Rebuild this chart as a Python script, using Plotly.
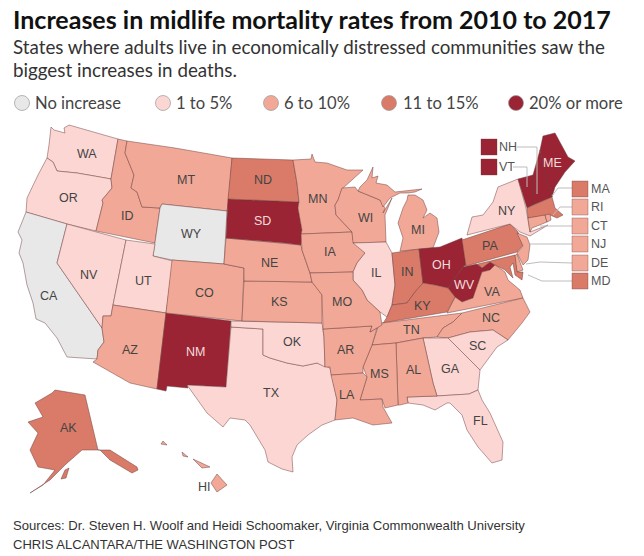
import plotly.graph_objects as go

# The plotly.js map files need the network, so the states are outlines traced
# off the picture, in picture pixels.
bin_names = ["No increase", "1 to 5%", "6 to 10%", "11 to 15%", "20% or more"]
bin_colors = ["#e8e8e8", "#fcd6d3", "#f2a896", "#d97b68", "#9a2434"]
bin_states = [
    ["CA", "WY"],
    ["WA", "OR", "NV", "UT", "TX", "OK", "IL", "GA", "SC", "FL", "NY"],
    ["ID", "MT", "CO", "AZ", "NE", "KS", "MN", "IA", "WI", "MI", "MO", "AR", "LA", "MS", "AL",
     "TN", "NC", "VA", "RI", "CT", "NJ", "DE", "HI"],
    ["ND", "IN", "KY", "PA", "MD", "MA", "AK"],
    ["SD", "NM", "OH", "WV", "ME", "NH", "VT"],
]

outlines = {
    "WA": [[(51,127),(54,130),(65,133),(64,128),(69,125),(118,139),(111,179),(100,177),(77,173),(67,172),(57,171),(53,162),(47,158),(49,145)]],
    "OR": [[(47,158),(53,162),(57,171),(67,172),(77,173),(100,177),(111,179),(112,188),(102,200),(103,203),(96,231),(67,224),(26,212),(27,198),(38,175)]],
    "CA": [[(26,212),(67,224),(57,263),(102,328),(104,342),(98,350),(97,359),(67,357),(57,338),(45,323),(36,319),(33,303),(27,285),(23,263),(19,253),(22,240),(18,232)]],
    "NV": [[(67,224),(126,240),(113,305),(111,316),(103,316),(102,328),(57,263)]],
    "ID": [[(118,139),(127,141),(125,153),(134,175),(131,188),(137,192),(142,207),(160,208),(155,243),(96,231),(103,203),(102,200),(112,188),(111,179)]],
    "MT": [[(127,141),(175,148),(232,158),(229,198),(227,211),(162,204),(160,208),(142,207),(137,192),(131,188),(134,175),(125,153)]],
    "WY": [[(162,204),(227,211),(224,264),(172,260),(153,256),(155,243),(160,208)]],
    "UT": [[(126,240),(155,244),(153,256),(173,261),(166,313),(113,305)]],
    "AZ": [[(113,305),(166,313),(157,389),(130,383),(93,362),(97,359),(98,350),(104,342),(102,328),(103,316),(111,316)]],
    "NM": [[(166,313),(231,321),(226,387),(187,385),(188,388),(167,386),(166,391),(157,389)]],
    "CO": [[(172,260),(224,264),(244,268),(242,321),(166,313)]],
    "TX": [[(231,327),(263,329),(263,355),(270,358),(287,363),(303,366),(317,363),(330,368),(332,376),(337,400),(335,420),(322,425),(308,435),(297,445),(292,457),(293,472),(282,469),(268,462),(265,450),(257,437),(250,425),(245,420),(230,418),(223,427),(207,413),(187,385),(226,387)]],
    "OK": [[(231,321),(322,323),(324,337),(325,367),(317,363),(303,366),(287,363),(270,358),(263,355),(263,329),(231,327)]],
    "KS": [[(244,281),(312,282),(317,288),(322,295),(322,323),(242,321)]],
    "NE": [[(226,238),(285,243),(301,245),(302,250),(310,273),(312,282),(244,281),(244,268),(224,264)]],
    "SD": [[(228,199),(299,202),(298,208),(302,230),(301,245),(285,243),(226,238)]],
    "ND": [[(232,158),(293,160),(297,183),(299,202),(228,199)]],
    "MN": [[(293,160),(311,159),(312,154),(315,162),(327,163),(347,170),(363,170),(342,189),(338,200),(335,205),(336,215),(352,232),(301,234),(302,230),(298,208),(299,202),(297,183)]],
    "IA": [[(301,234),(352,232),(353,240),(365,253),(357,263),(353,272),(310,273),(302,250)]],
    "WI": [[(342,188),(355,187),(358,191),(380,200),(385,208),(383,213),(392,198),(385,215),(386,242),(353,243),(352,232),(336,215),(335,205),(338,200)]],
    "MI": [[(358,191),(360,187),(367,180),(373,167),(372,178),(378,176),(376,183),(387,185),(395,192),(407,191),(422,189),(415,192),(408,193),(400,193),(390,198),(383,207),(380,200)],
           [(408,195),(415,195),(423,200),(427,210),(423,218),(430,213),(437,218),(439,232),(433,248),(419,249),(400,251),(403,238),(398,223),(403,208),(407,200)]],
    "IL": [[(353,243),(386,242),(392,253),(395,285),(392,305),(387,317),(380,312),(367,300),(362,290),(353,280),(353,272),(357,263),(365,253)]],
    "IN": [[(392,253),(419,249),(423,283),(415,292),(407,303),(392,305),(395,285)]],
    "OH": [[(419,249),(440,247),(462,238),(466,265),(463,267),(452,282),(448,288),(435,285),(423,283)]],
    "WV": [[(448,288),(452,282),(463,267),(477,264),(482,268),(490,262),(495,265),(490,270),(482,272),(475,292),(473,298),(462,302),(455,297)]],
    "PA": [[(462,240),(510,224),(518,232),(523,245),(517,252),(466,266)]],
    "NY": [[(467,235),(472,217),(483,215),(493,202),(498,187),(518,179),(526,208),(530,232),(548,225),(530,236),(520,232),(510,224)]],
    "VT": [[(518,179),(533,175),(533,205),(527,208)]],
    "NH": [[(533,175),(540,150),(552,197),(533,205)]],
    "ME": [[(540,150),(543,136),(555,133),(568,157),(575,161),(565,172),(555,187),(552,197),(546,177)]],
    "MA": [[(527,208),(552,197),(555,208),(563,215),(557,218),(550,215),(528,218)]],
    "CT": [[(528,218),(545,215),(547,222),(532,228),(530,232)]],
    "RI": [[(545,215),(550,214),(551,220),(547,222)]],
    "NJ": [[(517,233),(527,237),(530,245),(528,260),(523,265),(517,253),(523,246)]],
    "DE": [[(514,256),(517,254),(523,270),(517,272)]],
    "MD": [[(478,264),(515,255),(517,272),(523,272),(522,280),(515,275),(513,263),(510,267),(513,278),(505,270),(495,265),(490,262),(482,268)]],
    "VA": [[(495,265),(505,272),(508,280),(513,284),(520,290),(523,298),(447,313),(448,311),(455,297),(462,302),(473,298),(475,292),(482,272),(490,270)]],
    "KY": [[(392,305),(407,303),(415,292),(423,283),(435,285),(448,288),(455,297),(447,312),(382,323),(382,325),(387,317)]],
    "TN": [[(382,323),(462,313),(453,322),(443,328),(437,337),(423,338),(396,343),(372,345),(378,327)]],
    "NC": [[(462,313),(523,298),(530,312),(522,323),(508,340),(493,330),(470,332),(448,338),(437,337),(443,328),(453,322)]],
    "SC": [[(448,338),(470,332),(493,330),(508,340),(497,347),(480,370),(463,353)]],
    "GA": [[(423,338),(448,338),(463,353),(480,370),(478,390),(469,394),(437,396),(433,383)]],
    "FL": [[(407,397),(437,396),(469,394),(478,390),(482,400),(490,413),(503,442),(502,460),(492,463),(478,447),(467,430),(462,415),(450,403),(447,403),(435,410),(423,405),(408,403)]],
    "AL": [[(396,343),(423,338),(433,383),(437,396),(407,397),(408,403),(400,405),(398,405)]],
    "MS": [[(372,345),(396,343),(398,405),(385,408),(382,399),(360,400),(367,377),(363,367)]],
    "AR": [[(323,329),(372,326),(370,332),(377,328),(372,345),(363,367),(363,373),(331,375),(330,367),(325,367),(324,337)]],
    "LA": [[(331,375),(363,373),(367,377),(360,400),(382,399),(383,407),(392,423),(373,425),(353,418),(335,420),(337,400)]],
    "MO": [[(310,273),(353,272),(353,280),(362,290),(367,300),(380,312),(382,325),(377,328),(370,332),(372,326),(323,329),(322,295),(312,282)]],
    "AK": [[(55,390),(85,395),(98,450),(110,450),(137,467),(138,470),(132,473),(110,460),(100,450),(82,450),(65,465),(50,480),(30,493),(43,485),(55,470),(38,467),(30,450),(38,433),(28,422),(43,417),(35,403),(52,393)],
           [(65,470),(69,468),(66,478),(61,479)]],
    "HI": [[(217,474),(227,485),(217,492),(211,483)],[(193,459),(210,467),(202,468)],[(182,452),(188,457),(183,456)],[(163,441),(167,445),(161,444)]],
}

label_names = ["WA","OR","CA","NV","UT","AZ","ID","MT","WY","CO","NM","ND","SD","NE","KS","OK","TX",
               "MN","IA","MO","AR","LA","WI","IL","MI","IN","KY","OH","WV","PA","NY","VA","NC","TN",
               "MS","AL","GA","SC","FL","ME","AK","HI"]
label_x = [87,68,49,89,143,130,127,186,191,204,195,263,262,269,279,292,271,
           317,330,342,345,347,365,376,418,407,422,441,464,490,507,492,491,411,
           379,413,450,477,480,552,68,204]
label_y = [154,198,296,275,281,350,216,180,234,293,352,180,221,263,302,342,393,
           199,252,302,350,395,218,273,230,272,306,265,285,246,211,292,318,330,
           374,370,369,346,421,163,428,487]

callout_names = ["NH","VT","MA","RI","CT","NJ","DE","MD"]
callout_x = [489,489,580,580,580,580,580,580]
callout_y = [147,167,189,207,226,244,263,281]
callout_lines = [
    [(517,147),(537,147),(537,194)],
    [(513,167),(527,167),(527,187)],
    [(572,188),(558,188),(552,196)],
    [(572,207),(560,207),(553,215)],
    [(572,226),(540,226)],
    [(572,244),(530,244)],
    [(572,263),(540,262),(526,264)],
    [(572,281),(542,281),(528,275)],
]
legend_x = [22,163,271,389,516]
legend_text_x = [34,175,283,402,528]

fig = go.Figure()
color_of = {s: bin_colors[i] for i, group in enumerate(bin_states) for s in group}

for state, rings in outlines.items():
    xs, ys = [], []
    for ring in rings:
        xs += [p[0] for p in ring] + [ring[0][0], None]
        ys += [p[1] for p in ring] + [ring[0][1], None]
    fig.add_trace(go.Scatter(x=xs, y=ys, mode="lines", fill="toself", name=state,
                             fillcolor=color_of[state],
                             line=dict(color="rgba(105,60,60,0.6)", width=0.8)))

for pts in callout_lines:
    fig.add_trace(go.Scatter(x=[p[0] for p in pts], y=[p[1] for p in pts], mode="lines",
                             line=dict(color="#bdbdbd", width=1)))

fig.add_trace(go.Scatter(x=callout_x, y=callout_y, mode="markers",
                         marker=dict(symbol="square", size=16,
                                     color=[color_of[s] for s in callout_names],
                                     line=dict(color="rgba(105,60,60,0.5)", width=0.7))))
fig.add_trace(go.Scatter(x=legend_x, y=[103] * 5, mode="markers",
                         marker=dict(size=15, color=bin_colors,
                                     line=dict(color="#9a9a9a", width=0.7))))

def put_text(x, y, text, size, color="#333333", family="Lato", anchor="left"):
    fig.add_annotation(x=x, y=y, text=text, showarrow=False, xanchor=anchor, yanchor="middle",
                       font=dict(family=family, size=size, color=color), borderpad=0)

put_text(12, 19, "<b>Increases in midlife mortality rates from 2010 to 2017</b>", 25, "#111111")
put_text(12, 46, "States where adults live in economically distressed communities saw the", 18.8, "#333333")
put_text(12, 69, "biggest increases in deaths.", 18.8, "#333333")
for x, name in zip(legend_text_x, bin_names):
    put_text(x, 103, name, 16.6, "#444444")
for name, x, y in zip(label_names, label_x, label_y):
    light = color_of[name] == bin_colors[4]
    put_text(x, y, name, 12.5, "#f3dcdc" if light else "#444444", "Liberation Sans", "center")
callout_label_x = [498,498,590,590,590,590,590,590]
for name, x, y in zip(callout_names, callout_label_x, callout_y):
    put_text(x, y, name, 12.5, "#555555", "Liberation Sans")
put_text(12, 525, "Sources: Dr. Steven H. Woolf and Heidi Schoomaker, Virginia Commonwealth University", 13.1, "#333333", "Liberation Sans")
put_text(12, 544, "CHRIS ALCANTARA/THE WASHINGTON POST", 13, "#333333", "Liberation Sans")

fig.update_layout(
    width=644, height=556, showlegend=False, margin=dict(l=0, r=0, t=0, b=0),
    plot_bgcolor="white", paper_bgcolor="white",
    xaxis=dict(range=[0, 644], visible=False),
    yaxis=dict(range=[556, 0], visible=False),
)
# drop the page's default body margin so the figure sits at the window corner
fig.write_html("out.html", config={"displayModeBar": False},
               post_script="document.body.style.margin='0';")
